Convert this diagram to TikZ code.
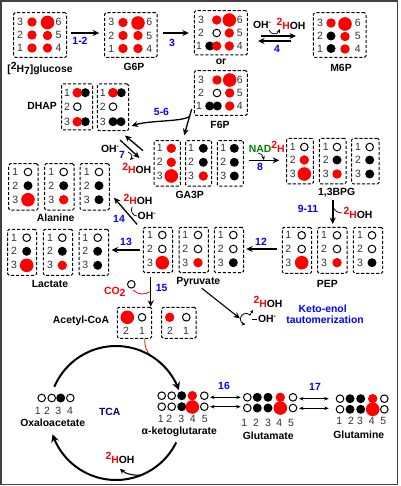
\documentclass[tikz,border=0pt]{standalone}
\usepackage{fontspec}
\setmainfont{Liberation Sans}
\usetikzlibrary{arrows.meta,calc}
\definecolor{tcablue}{rgb}{0,0,0.5}
\definecolor{nadgreen}{rgb}{0,0.5,0}
\newcounter{tx}
\tikzset{
  molbox/.style={draw=black,line width=1pt,rounded corners=1.5pt,inner sep=0pt,dash pattern=on 3.2pt off 1.8pt},
  digit/.style={inner sep=0pt,text=black!80,font=\fontsize{10.5}{12}\selectfont},
  lab/.style={inner sep=0pt,font=\bfseries\fontsize{10.4}{12}\selectfont},
  stepnum/.style={lab,text=blue},
  arr/.style={line width=1.3pt,-{Stealth[length=6.5pt,width=6pt]}},
  thinarr/.style={line width=0.7pt,-{Stealth[length=4pt,width=3.5pt]}},
  dblarr/.style={line width=0.8pt,{Stealth[length=4.5pt,width=3.5pt]}-{Stealth[length=4.5pt,width=3.5pt]}},
}
\newcommand{\molb}[5]{\node[molbox,minimum width={(#4-(#2))*1pt},minimum height={(#5-(#3))*1pt}] (#1) at ({(#2+#4)/2},{(#3+#5)/2}) {};}
\newcommand{\dg}[3]{\stepcounter{tx}\node[digit] (t\arabic{tx}) at (#1,#2) {#3};}
\newcommand{\dotr}[2]{\fill[red] (#1,#2) circle[radius=4.7pt];}
\newcommand{\dotR}[2]{\fill[red] (#1,#2) circle[radius=6.8pt];}
\newcommand{\dotk}[2]{\fill[black] (#1,#2) circle[radius=4.5pt];}
\newcommand{\doth}[2]{\draw[black,fill=white,line width=1pt] (#1,#2) circle[radius=3.8pt];}
\newcommand{\trow}[8]{\dg{#1}{#3}{1}\dg{#1}{#4}{2}\dg{#1}{#5}{3}\csname dot#6\endcsname{#2}{#3}\csname dot#7\endcsname{#2}{#4}\csname dot#8\endcsname{#2}{#5}}
\newcommand{\shoh}{{\color{red}\raisebox{3.6pt}{2}H}OH}
\newcommand{\ohm}{OH\raisebox{4pt}{\fontsize{7}{7}\selectfont -}}
\begin{document}
\begin{tikzpicture}[x=1pt,y=-1pt]
\useasboundingbox (0,0) rectangle (400,486);
\draw[black!75,line width=1.1pt] (1,1) rectangle (397.5,484.5);

% glucose
\molb{glc}{13.7}{12.7}{66.7}{57.3}
\dg{20}{22}{3}\dg{20}{35}{2}\dg{20}{48}{1}\dg{58.5}{22}{6}\dg{58.5}{35}{5}\dg{58.5}{48}{4}
\dotr{32}{22}\dotr{32}{35}\dotr{32}{48}\dotR{47.5}{22.5}\dotr{47.5}{35.5}\dotr{47.5}{48}
\node[lab] (glclab) at (40,68.5) {[\raisebox{3.6pt}{2}H\raisebox{-1.5pt}{7}]glucose};
% G6P
\molb{gsp}{104.7}{12.7}{157}{57.3}
\dg{111.3}{22}{3}\dg{111.3}{35.5}{2}\dg{111.3}{49}{1}\dg{149.3}{22}{6}\dg{149.3}{35.5}{5}\dg{149.3}{49}{4}
\dotr{123}{22.5}\dotr{123}{35.5}\dotr{123}{48.5}\dotR{138}{23}\dotr{138}{35.5}\dotr{138}{48.5}
\node[lab] (gsplab) at (134,67) {G6P};
% or box
\molb{orb}{194.3}{10.7}{247.3}{55}
\dg{201}{20}{3}\dg{201}{33}{2}\dg{199}{46}{1}\dg{239.7}{20}{6}\dg{239.7}{33}{5}\dg{239.7}{46}{4}
\dotr{216.7}{20}\doth{216.7}{33}\dotk{209.7}{46}\dotr{216.7}{46}\dotR{229.3}{20}\dotr{229.3}{33}\dotr{229.3}{46}
\node[lab] (orlab) at (221,62) {or};
% F6P
\molb{fsp}{194.3}{70.7}{247.3}{115.3}
\dg{201}{80}{3}\dg{201}{93}{2}\dg{199}{106}{1}\dg{239.7}{80}{6}\dg{239.7}{93}{5}\dg{239.7}{106}{4}
\dotr{217}{80}\doth{217}{93}\dotk{209.7}{106}\dotk{217.3}{106}\dotR{229.7}{80}\dotr{229.7}{93}\dotr{229.7}{106}
\node[lab] (fsplab) at (220,125) {F6P};
% M6P
\molb{msp}{313.3}{12.7}{366}{57.3}
\dg{320}{23}{3}\dg{320}{36}{2}\dg{320}{49}{1}\dg{357.7}{23}{6}\dg{357.7}{36}{5}\dg{357.7}{49}{4}
\dotr{331}{23}\dotk{331}{36}\dotk{331}{48.5}\dotR{345}{24}\dotr{345}{36.5}\dotr{345}{49}
\node[lab] (msplab) at (341,68) {M6P};

% top arrows
\draw[arr,shorten <=4pt,shorten >=5pt] ([yshift=2pt]glc.east) -- ([yshift=2pt]gsp.west);
\node[stepnum] (s12) at (80,41) {1-2};
\draw[arr,shorten <=5pt,shorten >=5pt] ([yshift=2pt]gsp.east) -- ([yshift=0pt]orb.west |- 0,33);
\node[stepnum] (s3) at (172,42.5) {3};
\coordinate (e4a) at (261,36); \coordinate (e4b) at (296,36);
\coordinate (e4c) at (291,41); \coordinate (e4d) at (258,41);
\draw[arr] (e4a) -- (e4b);
\draw[arr] (e4c) -- (e4d);
\node[stepnum] (s4) at (277,48.5) {4};
\node[lab] (oh4) at (262,24.5) {\ohm};
\node[lab] (wat4) at (291,24) {\shoh};
\coordinate (c4a) at (269,30); \coordinate (c4b) at (280,29);
\draw[thinarr] (c4a) .. controls (271,35) and (277,35) .. (c4b);

% DHAP
\molb{dh1}{61.7}{84}{92.7}{130}
\trow{67}{77.3}{92.7}{106.7}{121.7}{r}{h}{r}\dotk{85.3}{92.7}\dotk{85.3}{121.7}\dotr{77.3}{92.7}\dotr{77.3}{121.7}
\molb{dh2}{97.3}{84}{128.7}{130.7}
\trow{102.7}{113}{92.7}{106.7}{121.7}{r}{h}{k}\dotk{121.3}{92.7}\dotk{121}{121.7}\dotr{113}{92.7}
\node[lab] (dhlab) at (42,106) {DHAP};
\node[stepnum] (s56) at (161.5,112) {5-6};
\coordinate (f1) at (191.7,109); \coordinate (f2) at (190,116);
\coordinate (f3) at (131.5,126);
\draw[arr] (f2) .. controls (184,122) and (150,120) .. (f3);
% GA3P
\molb{ga1}{154}{140.7}{180.3}{186}
\trow{159.7}{171.3}{148.3}{162.3}{176}{r}{r}{R}
\molb{ga2}{185.7}{140.7}{211.7}{186}
\trow{191}{203.3}{148.3}{162.3}{176}{k}{k}{r}
\molb{ga3}{217.3}{140.7}{243.3}{186}
\trow{223.3}{234.3}{148.3}{162.3}{176}{k}{k}{k}
\node[lab] (galab) at (189.7,195) {GA3P};
\draw[arr] (f1) -- ($(ga1.north)+(17,-5)$);
% step 7
\coordinate (e7a) at (143,150.7); \coordinate (e7b) at (125,135.5);
\coordinate (e7c) at (120,140); \coordinate (e7d) at (139.5,158);
\draw[arr] (e7a) -- (e7b);
\draw[arr] (e7c) -- (e7d);
\node[lab] (oh7) at (110,149) {\ohm};
\node[stepnum] (s7) at (122,155) {7};
\node[lab] (wat7) at (136.7,168.5) {\shoh};
\draw[thinarr] (128,152) .. controls (132,154) and (133,157) .. (130,160);
% 1,3BPG
\molb{bp1}{286.7}{138.3}{313.3}{184}
\trow{292.7}{304.3}{147}{160}{174}{h}{r}{R}
\molb{bp2}{319.3}{138.3}{346}{184}
\trow{325.7}{337}{147}{160}{174}{h}{k}{r}
\molb{bp3}{351.7}{138.3}{379}{184}
\trow{358}{369.7}{147}{160}{174}{h}{k}{k}
\node[lab] (bplab) at (336.7,193) {1,3BPG};
\node[inner sep=0pt,font=\bfseries\fontsize{10.4}{12}\selectfont] (nad) at (266.7,147) {{\color{nadgreen}NAD}{\color{red}\raisebox{3.6pt}{2}H}};
\draw[arr,shorten <=5pt,shorten >=7pt] (ga3.east |- 0,160.3) -- (bp1.west |- 0,160.3);
\draw[thinarr] (258,153) .. controls (262,154) and (263,156) .. (264,160);
\node[stepnum] (s8) at (260,167) {8};
% PEP
\molb{pe1}{282.3}{227.3}{311.7}{273.3}
\trow{288.3}{301.7}{235.3}{249}{262.7}{h}{h}{R}
\molb{pe2}{317.7}{227.3}{347}{273.3}
\trow{324}{337}{235.3}{249}{262.7}{h}{h}{r}
\molb{pe3}{353.3}{227.3}{382.7}{273.3}
\trow{360}{372}{235.3}{249}{262.7}{h}{h}{k}
\node[lab] (pelab) at (327.3,284.3) {PEP};
\draw[arr,line width=1.7pt] (bplab.south -| 332.7,0) ++(0,2) -- (332.7,224);
\node[stepnum] (s911) at (308,209) {9-11};
\node[lab] (wat9) at (358,213) {\shoh};
\draw[line width=0.7pt] (333,206) .. controls (334,211) and (338,213) .. (342,213);
% Pyruvate
\molb{py1}{143.3}{227.3}{172.7}{272.7}
\trow{150}{162.3}{235}{249}{262.7}{h}{h}{R}
\molb{py2}{179}{227.3}{208.3}{272.7}
\trow{185.3}{198}{235}{249}{262.7}{h}{h}{r}
\molb{py3}{214.3}{227.3}{243.7}{272.7}
\trow{220.7}{233.3}{235}{249}{262.7}{h}{h}{k}
\node[lab] (pylab) at (198.3,282.3) {Pyruvate};
\draw[arr,shorten <=5pt,shorten >=2pt] (pe1.west |- 0,249) -- (py3.east |- 0,249);
\node[stepnum] (s12b) at (261,241.7) {12};
% Lactate
\molb{la1}{7.7}{229.3}{36.7}{275.3}
\trow{14}{26.7}{237.7}{251.3}{265.3}{h}{k}{R}
\molb{la2}{43.3}{229.3}{72.7}{275.3}
\trow{50}{62.3}{237.7}{251.3}{265.3}{h}{k}{r}
\molb{la3}{79}{229.3}{108.7}{275.3}
\trow{85.3}{97.7}{237.7}{251.3}{265.3}{h}{k}{k}
\node[lab] (lalab) at (50,284.3) {Lactate};
\draw[arr,shorten <=3.3pt,shorten >=2.3pt] (py1.west |- 0,250) -- (la3.east |- 0,250);
\node[stepnum] (s13) at (126,241.7) {13};
% Alanine
\molb{al1}{8.7}{163.7}{38}{210}
\trow{15.3}{28}{172}{185.7}{199.7}{h}{k}{R}
\molb{al2}{44.7}{163.7}{74}{210}
\trow{51.3}{63.7}{172}{185.7}{199.7}{h}{k}{r}
\molb{al3}{80}{163.7}{109.3}{210}
\trow{86.7}{99}{172}{185.7}{199.7}{h}{k}{k}
\node[lab] (allab) at (55.7,217.7) {Alanine};
\coordinate (a14) at (114,197.7);
\draw[arr] ($(py1.north west)+(-5.6,-2.3)$) -- (a14);
\node[stepnum] (s14) at (119,219) {14};
\node[lab] (wat14) at (138,199.3) {\shoh};
\node[lab] (oh14) at (146.7,216) {\ohm};
\draw[line width=0.7pt] (132,207) .. controls (130,211) and (133,216) .. (137,216);
% step 15
\molb{ac1}{117.3}{307.3}{151.7}{338.3}
\dotR{127.3}{317.3}\doth{142}{317.3}\dg{126}{331}{2}\dg{142}{331}{1}
\molb{ac2}{161.7}{307.3}{196}{338.3}
\dotr{169.7}{317.3}\doth{186.3}{317.3}\dg{170}{331}{2}\dg{186}{331}{1}
\node[lab] (aclab) at (81,320.7) {Acetyl-CoA};
\coordinate (b15) at (150.7,276.7);
\draw[arr] (b15) -- (ac1.north -| 150.7,0);
\node[stepnum] (s15) at (161.7,288.3) {15};
\node[lab,text=red] (co2) at (114.7,291.7) {CO\raisebox{-2pt}{2}};
\doth{131.3}{284.3}
\draw[red,line width=0.8pt] (133,290) .. controls (138,295) and (145,295) .. (149.7,291.7);
% keto-enol
\coordinate (cyc) at (240,318.5);
\draw[arr,line width=1.1pt] (pylab.south -| 201.7,0) ++(0,1) -- (cyc);
\draw[line width=0.8pt,-{Stealth[length=3.5pt,width=3.5pt]}] plot[smooth,domain=40:262,samples=24] ({246+5.5*cos(\x)},{319-5.5*sin(\x)});
\draw[line width=0.7pt,-{Stealth[length=3pt,width=3pt]}] (250,315) -- (253,310);
\draw[line width=0.7pt] (251.5,319) -- (257,319);
\node[lab] (wat15) at (268,301.7) {\shoh};
\node[lab] (oh15) at (267,319.3) {\ohm};
\node[stepnum] (ke1) at (322.7,308.3) {Keto-enol};
\node[stepnum] (ke2) at (325,319.3) {tautomerization};
% TCA
\coordinate (tc) at (116,413);
\draw[red,line width=0.8pt] (ac1.south -| 144.7,0) .. controls (144.5,347) and (147,352) .. (150,355);
\draw[line width=2pt,-{Stealth[length=8pt,width=8pt]}] plot[smooth,domain=157:20,samples=40] ({116+67*cos(\x)},{413-67*sin(\x)});
\draw[line width=2pt,-{Stealth[length=8pt,width=8pt]}] plot[smooth,domain=-26:-161.5,samples=40] ({116+67*cos(\x)},{413-67*sin(\x)});
\node[lab,text=tcablue] (tca) at (109.7,411.7) {TCA};
\node[lab] (wat) at (120,458) {\shoh};
\draw[line width=1.1pt,-{Stealth[length=5pt,width=5pt]}] (143,475) .. controls (135,476) and (126,474) .. (120,469);
% Oxaloacetate
\doth{41.7}{398}\doth{51.7}{398}\dotk{60.7}{398}\doth{70.3}{398}
\dg{37.7}{410.7}{1}\dg{47}{410.7}{2}\dg{58.3}{410.7}{3}\dg{70}{410.7}{4}
\node[lab] (oxlab) at (52.7,422.3) {Oxaloacetate};
% alpha-KG
\doth{161.7}{395.7}\doth{171.7}{395.7}\dotk{181.7}{395.7}\dotr{192.3}{395.7}\doth{204.3}{395.7}
\doth{161.7}{406.7}\doth{171.7}{406.7}\dotk{181.7}{406.7}\dotR{192.3}{407}\doth{204.3}{406.7}
\dg{160.7}{419.3}{1}\dg{169.3}{419.3}{2}\dg{181.3}{419.3}{3}\dg{192.7}{419.3}{4}\dg{204.7}{419.3}{5}
\node[lab] (aklab) at (179.3,432.3) {α-ketoglutarate};
% Glutamate
\doth{247.3}{397.3}\dotk{257.3}{397.3}\dotk{268}{397.3}\dotr{280.3}{397.3}\doth{293}{397.3}
\doth{247.3}{408}\dotk{257.3}{408}\dotk{268}{408}\dotR{280.3}{408}\doth{293}{408}
\dg{244.3}{422.7}{1}\dg{256}{422.7}{2}\dg{268}{422.7}{3}\dg{279.3}{422.7}{4}\dg{291}{422.7}{5}
\node[lab] (gulab) at (268.3,435.3) {Glutamate};
% Glutamine
\doth{340}{398.7}\dotk{350}{398.7}\dotk{360.7}{398.7}\dotr{372.7}{398.7}\doth{384.3}{398.7}
\doth{340}{409.3}\dotk{350}{409.3}\dotk{360.7}{409.3}\dotR{372.7}{409.3}\doth{384.3}{409.3}
\dg{339.3}{421.3}{1}\dg{351}{421.3}{2}\dg{360}{421.3}{3}\dg{371.7}{421.3}{4}\dg{383.3}{421.3}{5}
\node[lab] (gnlab) at (358.7,434.7) {Glutamine};
% 16 17
\coordinate (a) at (210,397.3);\coordinate (b) at (240.7,397.3);
\coordinate (c) at (210,406.7);\coordinate (d) at (240.7,406.7);
\draw[dblarr] (a) -- (b); \draw[dblarr] (c) -- (d);
\node[stepnum] (s16) at (224,386) {16};
\coordinate (e) at (299,398.7);\coordinate (f) at (328.7,398.7);
\coordinate (g) at (299,408.3);\coordinate (h) at (328.7,408.3);
\draw[dblarr] (e) -- (f); \draw[dblarr] (g) -- (h);
\node[stepnum] (s17) at (315,387) {17};
\end{tikzpicture}
\end{document}
